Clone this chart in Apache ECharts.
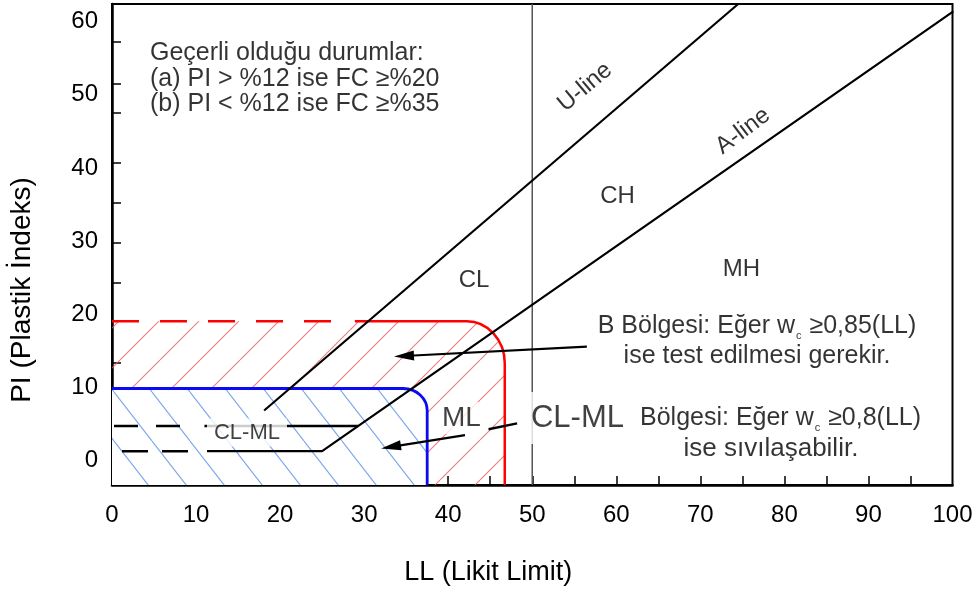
<!DOCTYPE html>
<html>
<head>
<meta charset="utf-8">
<script src="https://cdn.jsdelivr.net/npm/echarts@6/dist/echarts.min.js"></script>
<style>
  html, body { margin: 0; padding: 0; background: #fff; }
  #chart { width: 979px; height: 594px; }
</style>
</head>
<body>
<div id="chart"></div>
<script>
// ---- Axis ranges and ticks (LL on x, PI on y) ----
const llRange = [0, 100];
const piRange = [-3.32, 62.42];
const llTickLabels = [0, 10, 20, 30, 40, 50, 60, 70, 80, 90, 100];
const llTicks = [5, 10, 15, 20, 25, 30, 35, 40, 45, 50, 55, 60, 65, 70, 75, 80, 85, 90, 95];
const piTickLabels = [0, 10, 20, 30, 40, 50, 60];
const piTicks = [2.1, 8.4, 13.4, 24.3, 29.8, 35.2, 40.7, 47.5, 51.5, 57.2];

// ---- Classification lines, points as [LL, PI] ----
const uLine = [[18.1, 6.86], [74.5, 62.42]];
const aLine = [[11.3, 1.3], [25.0, 1.3], [100.1, 61.4]];
const aLineDashed = [[0, 1.3], [9.1, 1.3]];
const clmlUpper = [[11.0, 4.74], [29.3, 4.74]];
const clmlUpperDashed = [[0, 4.74], [8.6, 4.74]];
const ll50 = [[50, -3.32], [50, 62.42]];

// ---- Zones: [right edge LL, top edge PI, LL where the solid top edge starts] ----
const zoneB = [46.73, 19.05, 28.9];
const zoneBDashed = [[0, 19.05], [27.5, 19.05]];
const zoneCLML = [37.5, 9.87, 0];

// ---- Pointer arrows [from, to] and the short dash between ML and CL-ML ----
const arrowB = [[56.5, 15.6], [34.74, 14.31]];
const arrowML = [[42.0, 3.5], [33.19, 1.89]];
const mlDash = [[44.8, 4.29], [48.2, 5.1]];

// ---- Text anchors [LL, PI] ----
const noteAt = [4.52, 52.17];
const uLabelAt = [56.28, 51.06];
const aLabelAt = [75.07, 45.06];
const clAt = [43.07, 24.7];
const chAt = [60.14, 36.18];
const mhAt = [74.9, 26.2];
const clmlSmallAt = [16.06, 3.85];
const mlAt = [41.58, 5.84];
const clmlBigAt = [55.38, 5.84];
const bNoteAt = [76.74, 16.36];
const clmlNoteAt = [62.82, 5.84];
const clmlNote2At = [78.4, 1.6];

const FONT = "'Liberation Sans', Arial, Helvetica, sans-serif";

// Diagonal hatch tile: dir > 0 draws "/", dir < 0 draws "\"
function hatch(w, h, color, dir, bg) {
  const c = document.createElement('canvas');
  c.width = w; c.height = h;
  const g = c.getContext('2d');
  if (bg) { g.fillStyle = bg; g.fillRect(0, 0, w, h); }
  g.strokeStyle = color;
  g.lineWidth = 1.1;
  g.beginPath();
  for (const k of [-1, 0, 1]) {
    if (dir > 0) { g.moveTo(k * w, h); g.lineTo(k * w + w, 0); }
    else { g.moveTo(k * w, 0); g.lineTo(k * w + w, h); }
  }
  g.stroke();
  return c;
}

const redHatch = hatch(40, 40, 'rgba(232,92,92,0.8)', 1, null);
const blueHatch = hatch(38, 49, 'rgba(100,150,230,0.85)', -1, '#fff');

// Rounded-corner zone: hatched fill plus outline
function zoneSeries(zone, opts) {
  return {
    type: 'custom',
    coordinateSystem: 'cartesian2d',
    silent: true,
    z: opts.z,
    clip: false,
    data: [zone],
    renderItem(params, api) {
      const c = api.coord([api.value(0), api.value(1)]);
      const o = api.coord([llRange[0], piRange[0]]);
      const s = api.coord([api.value(2), api.value(1)]);
      const rx = opts.rx, ry = opts.ry, k = 0.5523;
      const corner = 'L' + (c[0] - rx) + ',' + c[1] +
        ' C' + (c[0] - rx + rx * k) + ',' + c[1] + ' ' + c[0] + ',' + (c[1] + ry - ry * k) + ' ' + c[0] + ',' + (c[1] + ry) +
        ' L' + c[0] + ',' + o[1];
      return {
        type: 'group',
        children: [
          {
            type: 'path',
            shape: { pathData: 'M' + o[0] + ',' + c[1] + ' ' + corner + ' L' + o[0] + ',' + o[1] + ' Z' },
            style: { fill: { image: opts.pattern, repeat: 'repeat' }, stroke: null }
          },
          {
            type: 'path',
            shape: { pathData: 'M' + s[0] + ',' + s[1] + ' ' + corner },
            style: { fill: null, stroke: opts.color, lineWidth: opts.width }
          }
        ]
      };
    }
  };
}

function seg(data, lineStyle, z) {
  return { type: 'line', data, symbol: 'none', silent: true, z, lineStyle, animation: false };
}

function textItem(at, formatter, label) {
  return {
    value: at,
    label: Object.assign({
      show: true, position: 'inside', formatter,
      fontFamily: FONT, fontSize: 24, color: '#000'
    }, label || {})
  };
}

function subRich(size) {
  return {
    t: { fontFamily: FONT, fontSize: size, color: '#000', lineHeight: 30 },
    s: { fontFamily: FONT, fontSize: 11, color: '#000', lineHeight: 30, verticalAlign: 'bottom', padding: [0, 1, 0, 1] }
  };
}

const chart = echarts.init(document.getElementById('chart'), null, { renderer: 'canvas' });

chart.setOption({
  animation: false,
  backgroundColor: '#fff',
  grid: {
    left: 112, right: 26.5, top: 4, bottom: 109,
    show: true, borderColor: '#000', borderWidth: 2, backgroundColor: 'transparent',
    outerBoundsMode: 'none'
  },
  xAxis: {
    type: 'value', min: llRange[0], max: llRange[1],
    axisLine: { show: true, onZero: false, lineStyle: { color: '#000', width: 2.5 } },
    axisTick: { show: true, inside: true, length: 9, customValues: llTicks, lineStyle: { color: '#000', width: 1.5 } },
    axisLabel: { customValues: llTickLabels, fontFamily: FONT, fontSize: 24, color: '#000', margin: 18 },
    splitLine: { show: false },
    name: 'LL (Likit Limit)', nameLocation: 'middle', nameGap: 74,
    nameTextStyle: { fontFamily: FONT, fontSize: 27, color: '#000', padding: [0, 88, 0, 0] }
  },
  yAxis: {
    type: 'value', min: piRange[0], max: piRange[1],
    axisLine: { show: true, onZero: false, lineStyle: { color: '#000', width: 2.5 } },
    axisTick: { show: true, inside: true, length: 9, customValues: piTicks, lineStyle: { color: '#000', width: 1.5 } },
    axisLabel: { customValues: piTickLabels, fontFamily: FONT, fontSize: 24, color: '#000', margin: 14 },
    splitLine: { show: false },
    name: 'PI (Plastik İndeks)', nameLocation: 'middle', nameGap: 76, nameRotate: 90,
    nameTextStyle: { fontFamily: FONT, fontSize: 28, color: '#000', padding: [0, 91, 0, 0] }
  },
  series: [
    zoneSeries(zoneB, { pattern: redHatch, color: '#ff0000', width: 2.5, rx: 38, ry: 42, z: 1 }),
    zoneSeries(zoneCLML, { pattern: blueHatch, color: '#0a0af5', width: 2.8, rx: 24, ry: 22, z: 2 }),
    seg(zoneBDashed, { color: '#ff0000', width: 2.5, type: [27, 21], dashOffset: 0 }, 3),
    seg(ll50, { color: '#555', width: 1.5 }, 3),
    seg(uLine, { color: '#000', width: 2.2 }, 4),
    seg(aLine, { color: '#000', width: 2.2 }, 4),
    seg(aLineDashed, { color: '#000', width: 2.5, type: [26, 14], dashOffset: 30 }, 4),
    seg(clmlUpper, { color: '#000', width: 2.5 }, 4),
    seg(clmlUpperDashed, { color: '#000', width: 2.5, type: [24, 18], dashOffset: 40 }, 4),
    {
      type: 'scatter', z: 10, silent: true, symbolSize: 0,
      itemStyle: { color: 'transparent', borderWidth: 0 },
      animation: false,
      data: [
        textItem(noteAt, 'Geçerli olduğu durumlar:\n(a) PI > %12 ise FC ≥%20\n(b) PI < %12 ise FC ≥%35', { align: 'left', lineHeight: 25.5, fontSize: 25 }),
        textItem(uLabelAt, 'U-line', { rotate: 40 }),
        textItem(aLabelAt, 'A-line', { rotate: 37 }),
        textItem(clAt, 'CL'),
        textItem(chAt, 'CH'),
        textItem(mhAt, 'MH'),
        textItem(clmlSmallAt, 'CL-ML', { fontSize: 22, lineHeight: 22, color: '#111', backgroundColor: '#fff', padding: [3, 7, 3, 7] }),
        textItem(mlAt, 'ML', { fontSize: 28, lineHeight: 28, color: '#111', backgroundColor: '#fff', padding: [2, 3, 2, 3] }),
        textItem(clmlBigAt, 'CL-ML', { fontSize: 31, lineHeight: 36, color: '#111', backgroundColor: '#fff', padding: [4, 4, 12, 4] }),
        textItem(bNoteAt, '{t|B Bölgesi: Eğer w}{s|c}{t| ≥0,85(LL)}\n{t|ise test edilmesi gerekir.}', { rich: subRich(25) }),
        textItem(clmlNoteAt, '{t|Bölgesi: Eğer w}{s|c}{t| ≥0,8(LL)}', { align: 'left', rich: subRich(25) }),
        textItem(clmlNote2At, 'ise sıvılaşabilir.', { fontSize: 26 })
      ]
    },
    {
      type: 'line', data: mlDash, symbol: 'none', silent: true, z: 12, animation: false,
      lineStyle: { color: '#000', width: 2.5 },
      markLine: {
        silent: true, animation: false,
        symbol: ['none', 'triangle'],
        label: { show: false },
        lineStyle: { color: '#000', width: 2.2, type: 'solid' },
        emphasis: { disabled: true },
        data: [
          [{ coord: arrowB[0] }, { coord: arrowB[1], symbol: 'triangle', symbolSize: [10, 20] }],
          [{ coord: arrowML[0] }, { coord: arrowML[1], symbol: 'triangle', symbolSize: [10, 20] }]
        ]
      }
    }
  ]
});
</script>
</body>
</html>
